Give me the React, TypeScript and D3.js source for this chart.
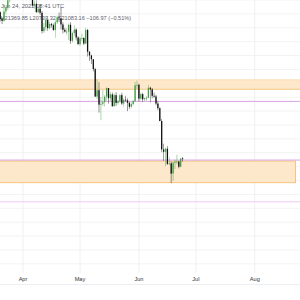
import React from 'react';
import * as d3 from 'd3';

// Daily candles, Mar 20 - Jun 24 2022
const startDate = '2022-03-20';
const opens = [
  42250, 41260, 41000, 42360, 42890, 43960, 44350, 44500, 46820, 47130, 47460, 47060,
  45540, 46280, 45860, 46440, 46600, 45500, 43200, 43450, 42250, 42750, 42160, 39530,
  40080, 41150, 39940, 40550, 40380, 39680, 40800, 41500, 41370, 40480, 39710, 39450,
  39450, 40430, 38120, 39240, 39740, 38600,
  37640, 38470, 38530, 37730, 39690, 36550, 36010, 35470, 34040, 30100, 31010, 28930,
  29050, 29280, 30080, 31320, 29860, 30420, 28700, 30300, 29180, 29430, 30300, 29100,
  29650, 29540, 29200, 28630, 29020, 29450, 31720,
  31790, 29800, 30450, 29700, 29860, 29900, 31370, 31130, 30200, 30110, 29090, 28420,
  26570, 22490, 22140, 22580, 20400, 20470, 19000, 20560, 20710, 20730, 19990, 21190,
];
const highs = [
  42340, 41520, 43360, 42950, 44220, 45090, 44790, 46880, 48190, 48090, 47700, 47600,
  46700, 47180, 47030, 46880, 47200, 45500, 43900, 43970, 42800, 43420, 42420, 40690,
  41560, 41500, 40840, 40710, 40600, 41100, 41760, 42200, 42980, 40800, 39990, 39930,
  40600, 40800, 39450, 40370, 39920, 38800,
  38670, 39150, 38630, 39970, 39840, 36620, 36130, 35500, 34240, 32650, 32160, 30030,
  31000, 30320, 31430, 31320, 30750, 30690, 30530, 30730, 29600, 30420, 30640, 29800,
  30200, 29830, 29350, 29260, 29540, 32200, 32380,
  31960, 30650, 30650, 29950, 30150, 31750, 31530, 31330, 30670, 30350, 29440, 28550,
  26880, 23310, 22720, 22970, 21330, 20750, 20760, 21000, 21700, 20860, 21220, 21370,
];
const lows = [
  40900, 40530, 40900, 41930, 42550, 43630, 44100, 44440, 46680, 46960, 46610, 45220,
  44250, 45800, 45600, 45130, 45400, 43100, 42750, 42150, 42130, 41880, 39200, 39250,
  39590, 39560, 39770, 40020, 39560, 38550, 40580, 40840, 39770, 39200, 39320, 38970,
  38200, 37700, 37880, 38880, 38180, 37580,
  37390, 38060, 37510, 37670, 35860, 35260, 34780, 33710, 30030, 29730, 27780, 26700,
  28760, 28640, 29500, 29100, 29480, 28620, 28700, 28740, 28950, 29220, 28900, 28640,
  29350, 28000, 28290, 28470, 28820, 29300, 31220,
  29350, 29600, 29310, 29480, 29500, 29880, 29250, 29850, 29940, 28850, 28120, 26560,
  22080, 20850, 20080, 20250, 20250, 17620, 17960, 19640, 20360, 19760, 19900, 20737,
];
const closes = [
  41260, 41000, 42360, 42890, 43960, 44350, 44500, 46820, 47130, 47460, 47060, 45540,
  46280, 45860, 46440, 46600, 45500, 43200, 43450, 42250, 42750, 42160, 39530, 40080,
  41150, 39940, 40550, 40380, 39680, 40800, 41500, 41370, 40480, 39710, 39450, 39450,
  40430, 38120, 39240, 39740, 38600, 37640,
  38470, 38530, 37730, 39690, 36550, 36010, 35470, 34040, 30100, 31010, 28930, 29050,
  29280, 30080, 31320, 29860, 30420, 28700, 30300, 29180, 29430, 30300, 29100, 29650,
  29540, 29200, 28630, 29020, 29450, 31720, 31790,
  29800, 30450, 29700, 29860, 29900, 31370, 31130, 30200, 30110, 29090, 28420, 26570,
  22490, 22140, 22580, 20400, 20470, 19000, 20560, 20710, 20730, 19990, 21190, 21083,
];

const monthTicks = ['2022-04-01', '2022-05-01', '2022-06-01', '2022-07-01', '2022-08-01'];
const monthLabels = ['Apr', 'May', 'Jun', 'Jul', 'Aug'];
const priceGrid = d3.range(6000, 44001, 2000);

const zone1 = [31150, 32500];
const zone2 = [17700, 20800];
const purpleLines = [29400, 20950, 14950];

const headerDate = 'Jun 24, 2022 08:41 UTC';
const headerValues = 'H21369.85 L20737.32 C21083.16 \u2212106.97 (\u22120.51%)';

const W = 300;
const paneBottom = 273;
const day = 86400000;

export default function App() {
  const parse = d3.utcParse('%Y-%m-%d');
  const t0 = parse(startDate)!.getTime();
  const dates = closes.map((_, i) => new Date(t0 + i * day));

  const x = d3
    .scaleUtc()
    .domain([parse('2022-04-01')!, parse('2022-08-01')!])
    .range([23, 254.8]);
  const y = d3.scaleLinear().domain([44000, 4688]).range([0, paneBottom]);

  const bw = 1.3;
  const up = '#43a047';
  const down = '#111111';

  return (
    <svg
      width={W}
      height={300}
      style={{ position: 'absolute', left: 0, top: 0, background: '#fff' }}
      fontFamily="'Liberation Sans', Arial, sans-serif"
    >
      <defs>
        <clipPath id="pane">
          <rect x={0} y={0} width={W} height={paneBottom} />
        </clipPath>
      </defs>
      {/* grid */}
      {priceGrid.map((p) => (
        <line key={p} x1={0} x2={W} y1={y(p)} y2={y(p)} stroke="#f3f3f3" strokeWidth={1} />
      ))}
      {monthTicks.map((m) => (
        <line
          key={m}
          x1={x(parse(m)!)}
          x2={x(parse(m)!)}
          y1={0}
          y2={paneBottom}
          stroke="#f0f0f0"
          strokeWidth={1}
        />
      ))}

      {/* zones */}
      <rect x={-1} y={y(zone1[1])} width={W + 2} height={y(zone1[0]) - y(zone1[1])} fill="#fde8cb" />
      <line x1={0} x2={W} y1={y(zone1[1])} y2={y(zone1[1])} stroke="#fbdcb0" strokeWidth={1} />
      <line x1={0} x2={W} y1={y(zone1[0])} y2={y(zone1[0])} stroke="#f6c47e" strokeWidth={1} />
      <rect
        x={-1}
        y={y(zone2[1])}
        width={296.5}
        height={y(zone2[0]) - y(zone2[1])}
        fill="#fde8cb"
        stroke="#f6c47e"
        strokeWidth={1}
      />
      {purpleLines.map((p, i) => (
        <line
          key={p}
          x1={0}
          x2={W}
          y1={y(p)}
          y2={y(p)}
          stroke={i === 2 ? '#f0c8f5' : '#d9a3e3'}
          strokeWidth={1}
        />
      ))}

      {/* legend */}
      <text x={1} y={8} fontSize={5.8} fill="#5d606b">
        {headerDate}
      </text>
      <text x={0.5} y={19.5} fontSize={5.6} fill="#5d606b">
        {headerValues}
      </text>

      {/* candles */}
      <g clipPath="url(#pane)">
        {dates.map((d, i) => {
          const cx = x(d);
          const o = opens[i];
          const c = closes[i];
          const col = c >= o ? up : down;
          const top = y(Math.max(o, c));
          const h = Math.max(0.8, Math.abs(y(o) - y(c)));
          return (
            <g key={i}>
              <line x1={cx} x2={cx} y1={y(highs[i])} y2={y(lows[i])} stroke={col} strokeWidth={0.6} opacity={0.75} />
              <rect x={cx - bw / 2} y={top} width={bw} height={h} fill={col} />
            </g>
          );
        })}
      </g>

      {/* time axis */}
      {monthTicks.map((m, i) => (
        <text key={m} x={x(parse(m)!)} y={281} fontSize={5.6} textAnchor="middle" fill="#333">
          {monthLabels[i]}
        </text>
      ))}
      <line x1={0} x2={W} y1={284.5} y2={284.5} stroke="#eceef2" strokeWidth={1} />
    </svg>
  );
}
